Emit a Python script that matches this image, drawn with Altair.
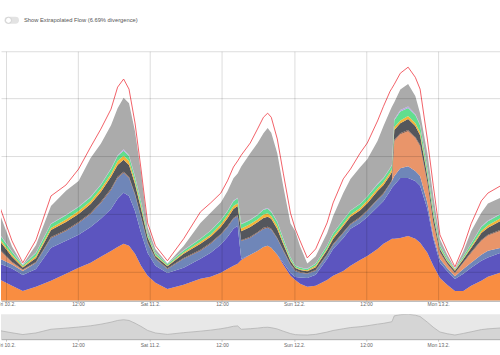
import json
import altair as alt
import pandas as pd

# ---------------- data (GW) ----------------
hours = [-0.9, 1.0, 2.8, 5.0, 7.5, 10.0, 12.1, 14.1, 15.8, 17.5,
         18.6, 19.6, 20.5, 21.5, 22.5, 23.6, 24.9, 26.9, 29.6, 32.4,
         34.1, 35.8, 36.9, 37.9, 38.6, 39.2, 40.7, 41.9, 42.9, 43.6,
         44.2, 45.2, 46.2, 47.4, 48.2, 49.0, 50.2, 51.6, 53.5, 54.5,
         56.2, 57.4, 59.0, 60.2, 61.9, 62.9, 64.0, 64.3, 64.7, 65.7,
         67.0, 68.2, 69.0, 70.2, 71.2, 72.3, 73.5, 74.8, 76.2, 77.5,
         79.2, 80.3, 82.4]

orange = [7.2, 5.2, 3.4, 4.8, 6.9, 9.3, 11.4, 13.1, 15.2, 17.2,
          18.6, 19.7, 19.0, 16.2, 12.1, 8.6, 6.2, 4.1, 5.5, 7.6,
          8.3, 9.7, 11.0, 12.1, 12.8, 14.1, 15.9, 17.2, 18.6, 19.0,
          18.3, 15.9, 12.4, 8.6, 7.2, 5.9, 4.8, 5.2, 7.2, 8.6,
          10.3, 12.1, 14.1, 15.5, 17.9, 19.7, 21.0, 21.4, 21.4, 21.7,
          22.4, 21.4, 20.0, 16.6, 12.1, 7.9, 5.5, 3.4, 3.4, 5.2,
          6.9, 8.3, 9.7]
purple = [5.5, 5.9, 5.5, 6.2, 11.4, 11.4, 11.4, 12.4, 13.1, 14.5,
          16.6, 17.6, 17.2, 14.8, 11.4, 7.9, 5.9, 5.5, 5.9, 6.9,
          8.3, 9.7, 11.0, 12.8, 13.1, 0.3, 0.0, 0.0, 0.0, 0.0,
          0.0, 0.0, 0.7, 1.0, 1.0, 2.1, 3.1, 3.8, 7.2, 9.3,
          11.4, 12.8, 12.8, 13.4, 14.5, 14.8, 16.9, 17.6, 18.6, 20.7,
          20.0, 20.0, 19.7, 15.2, 9.3, 5.2, 4.8, 4.1, 5.9, 6.2,
          6.9, 6.6, 6.9]
slate = [1.7, 1.4, 1.4, 2.1, 3.4, 3.4, 4.1, 4.5, 5.5, 6.6,
         7.2, 6.9, 6.2, 5.5, 5.2, 3.4, 2.4, 1.4, 3.1, 2.8,
         3.1, 3.4, 3.4, 3.4, 3.4, 6.2, 5.9, 6.2, 6.2, 6.2,
         6.2, 5.5, 4.1, 2.8, 2.1, 1.7, 1.4, 1.4, 1.4, 1.4,
         1.7, 1.4, 1.7, 2.1, 2.4, 2.4, 2.4, 2.4, 3.1, 3.4,
         4.1, 3.4, 3.4, 2.1, 1.0, 1.4, 1.0, 1.0, 1.7, 1.7,
         2.1, 2.4, 1.7]
salmon = [2.8, 0.7, 0.3, 0.0, 0.0, 0.0, 0.0, 0.0, 0.0, 0.0,
          0.0, 0.0, 0.0, 0.0, 0.0, 0.0, 0.0, 0.0, 0.0, 0.0,
          0.0, 0.0, 0.0, 0.0, 0.0, 0.0, 0.0, 0.0, 0.0, 0.0,
          0.0, 0.0, 0.0, 0.0, 0.0, 0.0, 0.0, 0.0, 0.0, 0.0,
          0.0, 0.0, 0.0, 0.0, 0.0, 0.0, 0.0, 0.0, 12.1, 11.7,
          12.1, 11.4, 10.3, 6.9, 4.5, 2.1, 1.4, 1.0, 2.1, 3.4,
          4.8, 5.2, 5.9]
brown = [0.3, 0.3, 0.2, 0.3, 0.3, 0.3, 0.3, 0.3, 0.4, 0.4,
         0.4, 0.4, 0.4, 0.4, 0.3, 0.3, 0.3, 0.2, 0.3, 0.3,
         0.3, 0.3, 0.3, 0.3, 0.3, 0.3, 0.3, 0.3, 0.4, 0.4,
         0.4, 0.3, 0.3, 0.3, 0.3, 0.2, 0.2, 0.2, 0.3, 0.3,
         0.3, 0.3, 0.3, 0.3, 0.3, 0.3, 0.3, 0.3, 0.4, 0.4,
         0.4, 0.4, 0.4, 0.3, 0.3, 0.3, 0.2, 0.2, 0.2, 0.3,
         0.3, 0.3, 0.3]
dark = [2.8, 1.7, 0.7, 1.4, 2.4, 2.8, 2.8, 3.1, 3.4, 4.1,
        4.1, 4.1, 4.1, 3.4, 2.8, 1.7, 0.7, 0.7, 1.4, 2.1,
        2.1, 2.4, 2.8, 3.1, 3.1, 3.1, 3.4, 3.4, 3.4, 3.4,
        3.4, 3.1, 2.1, 1.0, 0.7, 0.7, 0.7, 1.0, 1.4, 1.7,
        2.1, 2.4, 2.4, 2.4, 2.8, 2.8, 2.8, 2.8, 3.4, 3.4,
        3.8, 3.8, 3.4, 2.1, 2.1, 1.0, 0.7, 0.7, 1.0, 1.4,
        2.4, 2.4, 3.1]
yellow = [0.7, 0.7, 0.3, 0.7, 0.7, 0.9, 1.0, 1.0, 1.0, 1.0,
          1.4, 1.4, 1.4, 1.0, 0.9, 0.5, 0.3, 0.3, 0.5, 0.7,
          0.7, 0.9, 1.0, 1.0, 1.0, 1.0, 1.0, 1.0, 1.2, 1.2,
          1.0, 1.0, 0.7, 0.5, 0.3, 0.3, 0.3, 0.5, 0.5, 0.7,
          0.7, 0.7, 0.7, 0.9, 0.9, 0.9, 0.9, 0.9, 1.0, 1.0,
          1.0, 1.0, 1.0, 0.7, 0.7, 0.3, 0.3, 0.3, 0.3, 0.5,
          0.7, 0.9, 0.9]
green = [1.4, 1.0, 0.5, 1.0, 1.4, 1.4, 1.4, 1.4, 1.4, 1.7,
         1.7, 1.7, 1.7, 1.4, 1.4, 0.9, 0.7, 0.5, 0.7, 1.0,
         1.4, 1.4, 1.4, 1.7, 1.7, 1.4, 1.4, 1.4, 1.6, 1.6,
         1.4, 1.4, 1.0, 0.7, 0.5, 0.5, 0.5, 0.7, 1.0, 1.2,
         1.4, 1.4, 1.4, 1.4, 1.4, 1.4, 1.4, 1.4, 2.4, 3.1,
         2.8, 2.8, 2.4, 1.7, 1.7, 1.0, 0.7, 0.3, 0.7, 1.0,
         1.4, 1.4, 1.4]
lavender = [0.2, 0.2, 0.1, 0.2, 0.2, 0.2, 0.2, 0.2, 0.2, 0.2,
            0.3, 0.5, 0.3, 0.2, 0.2, 0.2, 0.1, 0.1, 0.1, 0.1,
            0.1, 0.2, 0.2, 0.2, 0.2, 0.2, 0.2, 0.2, 0.2, 0.2,
            0.2, 0.2, 0.2, 0.1, 0.1, 0.1, 0.1, 0.1, 0.1, 0.1,
            0.1, 0.1, 0.1, 0.1, 0.2, 0.2, 0.2, 0.2, 0.3, 0.5,
            0.5, 0.3, 0.3, 0.2, 0.2, 0.1, 0.1, 0.1, 0.1, 0.1,
            0.2, 0.2, 0.2]
gray = [6.7, 1.6, 0.1, 2.6, 6.0, 8.3, 8.8, 13.3, 14.0, 14.9,
        16.2, 17.8, 17.9, 15.6, 10.0, 1.9, 1.3, 0.1, 1.4, 5.4,
        6.1, 5.9, 6.7, 7.7, 8.4, 19.8, 22.9, 24.7, 26.3, 27.7,
        27.1, 23.6, 18.1, 11.8, 11.8, 7.3, 1.8, 2.5, 4.2, 5.9,
        9.2, 10.9, 12.6, 12.8, 14.8, 17.9, 19.7, 20.0, 5.9, 7.1,
        7.8, 6.2, 3.8, 5.3, 4.3, 2.0, 1.3, 0.1, 1.6, 4.2,
        4.7, 5.9, 5.5]
extrapolated = [31.7, 20.7, 13.1, 21.0, 36.2, 40.0, 45.5, 53.1, 59.3, 66.2,
                73.8, 76.6, 73.1, 61.4, 45.5, 26.9, 19.0, 13.8, 21.4, 30.7,
                33.8, 37.2, 41.4, 46.2, 48.3, 50.3, 54.5, 59.3, 63.4, 64.8,
                63.4, 55.9, 44.1, 30.3, 24.8, 20.7, 14.8, 17.9, 26.9, 33.8,
                42.1, 45.5, 51.0, 54.5, 62.1, 67.2, 72.4, 73.4, 74.8, 78.6,
                80.7, 77.2, 73.1, 55.9, 39.7, 22.8, 17.2, 11.7, 18.6, 26.6,
                34.5, 37.2, 39.7]

day_labels = ["Fri 10.2.", "Sat 11.2.", "Sun 12.2.", "Mon 13.2."]
noon_label = "12:00"
tick_hours = [0, 12, 24, 36, 48, 60, 72]
grid_values = [10, 20, 30, 40, 50, 60, 70, 80, 86.2]
toggle_text = "Show Extrapolated Flow (6.69% divergence)"

layers = [
    ("Orange", orange, "#f98d41"),
    ("Purple", purple, "#5c55bf"),
    ("Slate", slate, "#6f86b8"),
    ("Salmon", salmon, "#e9956a"),
    ("Brown", brown, "#8a5a46"),
    ("Dark", dark, "#54565c"),
    ("Yellow", yellow, "#f4b43a"),
    ("Green", green, "#62de8e"),
    ("Lavender", lavender, "#b8a4e6"),
    ("Gray", gray, "#ababab"),
]
for _, vals, _ in layers:
    assert len(vals) == len(hours)
assert len(extrapolated) == len(hours)

rows = []
for k, (name, vals, _) in enumerate(layers):
    for t, v in zip(hours, vals):
        rows.append({"t": t, "series": name, "value": v, "ord": k})
stack_df = pd.DataFrame(rows)
red_df = pd.DataFrame({"t": hours, "total": extrapolated})
nav_vals = [sum(vals[i] for name, vals, _ in layers if name != "Gray") for i in range(len(hours))]
nav_df = pd.DataFrame({"t": hours, "nav": nav_vals})

x_dom = [-0.83, 82.31]
label_expr = ("datum.value % 24 == 0 ? " + json.dumps(day_labels) +
              "[datum.value / 24] : '" + noon_label + "'")

FONT = "Liberation Sans"


def x_axis(grid, pad):
    return alt.Axis(values=tick_hours, labelExpr=label_expr, grid=grid, title=None,
                    labelFontSize=5, labelColor="#666", labelFont=FONT,
                    labelFlush=False, labelOverlap=False, labelPadding=pad,
                    tickSize=2, tickColor="#c8c8c8", domainColor="#a8a8a8",
                    gridColor="#000000", gridOpacity=0.14, zindex=1)


xs = alt.Scale(domain=x_dom, nice=False, zero=False)

areas = alt.Chart(stack_df).mark_area(clip=True, interpolate="linear").encode(
    x=alt.X("t:Q", scale=xs, axis=x_axis(True, -1.5)),
    y=alt.Y("value:Q", stack="zero",
            scale=alt.Scale(domain=[0, 86.2], nice=False),
            axis=alt.Axis(values=grid_values, labels=False, ticks=False, domain=False,
                          title=None, gridColor="#000000", gridOpacity=0.14, zindex=1)),
    color=alt.Color("series:N", legend=None,
                    scale=alt.Scale(domain=[l[0] for l in layers], range=[l[2] for l in layers])),
    order=alt.Order("ord:Q", sort="ascending"),
)

red = alt.Chart(red_df).mark_line(color="#f0464e", strokeWidth=1, opacity=0.85, clip=True).encode(
    x=alt.X("t:Q", scale=xs),
    y=alt.Y("total:Q"),
)

one = pd.DataFrame({"label": [toggle_text]})
pill = alt.Chart(one).mark_rule(strokeWidth=7, strokeCap="round", color="#e3e3e3").encode(
    x=alt.value(7), x2=alt.value(14.5), y=alt.value(-31))
knob = alt.Chart(one).mark_point(shape="circle", filled=True, fill="#ffffff", stroke="#c4c4c4",
                                 strokeWidth=0.7, size=36, opacity=1).encode(
    x=alt.value(7.5), y=alt.value(-31))
ttext = alt.Chart(one).mark_text(align="left", baseline="middle", fontSize=5.8,
                                 color="#555555", font=FONT).encode(
    x=alt.value(23), y=alt.value(-31), text="label:N")

main = alt.layer(areas, red, pill, knob, ttext).properties(width=500, height=250)

nav = alt.Chart(nav_df).mark_area(color="#cdcdcd", line={"color": "#b2b2b2", "strokeWidth": 0.8},
                                  clip=True).encode(
    x=alt.X("t:Q", scale=xs, axis=x_axis(False, 1)),
    y=alt.Y("nav:Q", scale=alt.Scale(domain=[0, max(nav_vals)], nice=False), axis=None),
).properties(width=500, height=25, view=alt.ViewBackground(fill="#e8e8e8", stroke=None))

chart = alt.vconcat(main, nav, spacing=7.5).properties(
    padding={"left": -4, "top": 15, "right": 0, "bottom": 0},
    background="#ffffff",
).configure_view(stroke=None)

chart.save("out.html", embed_options={"renderer": "svg", "actions": False})
